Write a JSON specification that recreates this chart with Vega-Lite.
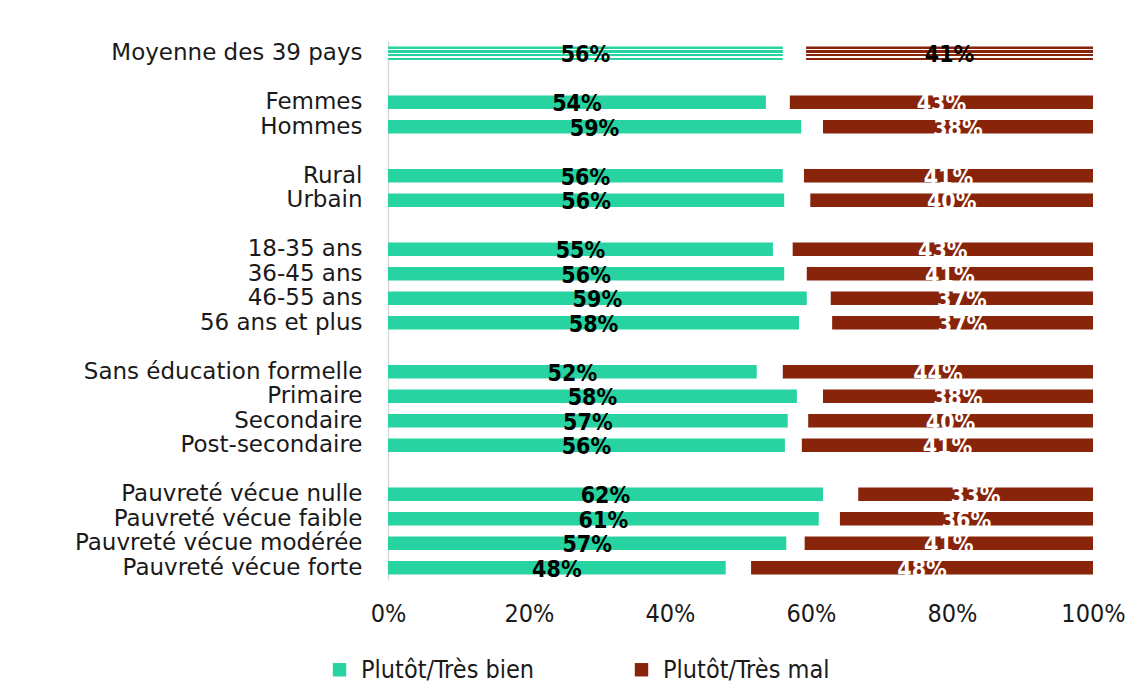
{
  "$schema": "https://vega.github.io/schema/vega-lite/v6.json",
  "width": 705,
  "height": 539,
  "autosize": {"type": "none"},
  "padding": {"left": 388, "top": 41, "right": 51, "bottom": 119},
  "background": "white",
  "config": {"view": {"stroke": null}, "font": "DejaVu Sans"},
  "data": {
    "values": [
      {"cat": "Moyenne des 39 pays", "bien": 0.560, "mal": 0.407, "bienLabel": "56%", "malLabel": "41%"},
      {"cat": "Femmes", "bien": 0.536, "mal": 0.430, "bienLabel": "54%", "malLabel": "43%"},
      {"cat": "Hommes", "bien": 0.586, "mal": 0.383, "bienLabel": "59%", "malLabel": "38%"},
      {"cat": "Rural", "bien": 0.560, "mal": 0.410, "bienLabel": "56%", "malLabel": "41%"},
      {"cat": "Urbain", "bien": 0.562, "mal": 0.401, "bienLabel": "56%", "malLabel": "40%"},
      {"cat": "18-35 ans", "bien": 0.546, "mal": 0.426, "bienLabel": "55%", "malLabel": "43%"},
      {"cat": "36-45 ans", "bien": 0.562, "mal": 0.406, "bienLabel": "56%", "malLabel": "41%"},
      {"cat": "46-55 ans", "bien": 0.594, "mal": 0.372, "bienLabel": "59%", "malLabel": "37%"},
      {"cat": "56 ans et plus", "bien": 0.583, "mal": 0.370, "bienLabel": "58%", "malLabel": "37%"},
      {"cat": "Sans éducation formelle", "bien": 0.523, "mal": 0.440, "bienLabel": "52%", "malLabel": "44%"},
      {"cat": "Primaire", "bien": 0.580, "mal": 0.383, "bienLabel": "58%", "malLabel": "38%"},
      {"cat": "Secondaire", "bien": 0.567, "mal": 0.404, "bienLabel": "57%", "malLabel": "40%"},
      {"cat": "Post-secondaire", "bien": 0.563, "mal": 0.413, "bienLabel": "56%", "malLabel": "41%"},
      {"cat": "Pauvreté vécue nulle", "bien": 0.617, "mal": 0.333, "bienLabel": "62%", "malLabel": "33%"},
      {"cat": "Pauvreté vécue faible", "bien": 0.611, "mal": 0.359, "bienLabel": "61%", "malLabel": "36%"},
      {"cat": "Pauvreté vécue modérée", "bien": 0.565, "mal": 0.409, "bienLabel": "57%", "malLabel": "41%"},
      {"cat": "Pauvreté vécue forte", "bien": 0.479, "mal": 0.485, "bienLabel": "48%", "malLabel": "48%"}
    ]
  },
  "encoding": {
    "y": {
      "field": "cat",
      "type": "nominal",
      "scale": {
        "domain": ["Moyenne des 39 pays", "gap1", "Femmes", "Hommes", "gap2", "Rural", "Urbain", "gap3", "18-35 ans", "36-45 ans", "46-55 ans", "56 ans et plus", "gap4", "Sans éducation formelle", "Primaire", "Secondaire", "Post-secondaire", "gap5", "Pauvreté vécue nulle", "Pauvreté vécue faible", "Pauvreté vécue modérée", "Pauvreté vécue forte"],
        "paddingInner": 0.44,
        "paddingOuter": 0.22
      },
      "axis": {
        "title": null,
        "ticks": false,
        "domainColor": "#d9d9d9",
        "domainWidth": 1.5,
        "labelFont": "DejaVu Sans",
        "labelFontSize": 23,
        "labelColor": "#1a1a1a",
        "labelPadding": 26,
        "labelLimit": 400,
        "labelExpr": "indexof(datum.label, 'gap') === 0 ? '' : datum.label"
      }
    }
  },
  "layer": [
    {
      "transform": [{"filter": "datum.cat !== 'Moyenne des 39 pays'"}],
      "mark": {"type": "bar"},
      "encoding": {
        "x": {
          "field": "bien",
          "type": "quantitative",
          "scale": {"domain": [0, 1]},
          "axis": {
            "title": null,
            "format": ".0%",
            "values": [0, 0.2, 0.4, 0.6, 0.8, 1],
            "domain": false,
            "ticks": false,
            "grid": false,
            "labelFont": "DejaVu Sans Condensed",
            "labelFontSize": 25,
            "labelColor": "#1a1a1a",
            "labelPadding": 21,
            "labelFlush": false
          }
        },
        "color": {
          "datum": "Plutôt/Très bien",
          "type": "nominal",
          "scale": {"domain": ["Plutôt/Très bien", "Plutôt/Très mal"], "range": ["#26D3A1", "#88240A"]},
          "legend": {
            "orient": "none",
            "legendX": -61,
            "legendY": 616,
            "direction": "horizontal",
            "title": null,
            "symbolType": "square",
            "symbolSize": 180,
            "symbolStrokeWidth": 0,
            "labelFont": "DejaVu Sans Condensed",
            "labelFontSize": 25,
            "labelColor": "#1a1a1a",
            "labelOffset": 9,
            "columnPadding": 94,
            "labelLimit": 400
          }
        }
      }
    },
    {
      "transform": [{"filter": "datum.cat === 'Moyenne des 39 pays'"}],
      "mark": {
        "type": "bar",
        "color": {
          "gradient": "linear", "x1": 0, "y1": 0, "x2": 0, "y2": 1,
          "stops": [
            {"offset": 0, "color": "#26D3A1"}, {"offset": 0.17, "color": "#26D3A1"},
            {"offset": 0.17, "color": "#ffffff"}, {"offset": 0.27, "color": "#ffffff"},
            {"offset": 0.27, "color": "#26D3A1"}, {"offset": 0.45, "color": "#26D3A1"},
            {"offset": 0.45, "color": "#ffffff"}, {"offset": 0.55, "color": "#ffffff"},
            {"offset": 0.55, "color": "#26D3A1"}, {"offset": 0.73, "color": "#26D3A1"},
            {"offset": 0.73, "color": "#ffffff"}, {"offset": 0.83, "color": "#ffffff"},
            {"offset": 0.83, "color": "#26D3A1"}, {"offset": 1, "color": "#26D3A1"}
          ]
        }
      },
      "encoding": {
        "x": {"field": "bien", "type": "quantitative", "scale": {"domain": [0, 1]}, "axis": null}
      }
    },
    {
      "transform": [{"filter": "datum.cat !== 'Moyenne des 39 pays'"}],
      "mark": {"type": "bar"},
      "encoding": {
        "x": {"field": "mal", "type": "quantitative", "scale": {"domain": [0, 1], "reverse": true}, "axis": null},
        "color": {"datum": "Plutôt/Très mal", "type": "nominal"}
      }
    },
    {
      "transform": [{"filter": "datum.cat === 'Moyenne des 39 pays'"}],
      "mark": {
        "type": "bar",
        "color": {
          "gradient": "linear", "x1": 0, "y1": 0, "x2": 0, "y2": 1,
          "stops": [
            {"offset": 0, "color": "#88240A"}, {"offset": 0.17, "color": "#88240A"},
            {"offset": 0.17, "color": "#ffffff"}, {"offset": 0.27, "color": "#ffffff"},
            {"offset": 0.27, "color": "#88240A"}, {"offset": 0.45, "color": "#88240A"},
            {"offset": 0.45, "color": "#ffffff"}, {"offset": 0.55, "color": "#ffffff"},
            {"offset": 0.55, "color": "#88240A"}, {"offset": 0.73, "color": "#88240A"},
            {"offset": 0.73, "color": "#ffffff"}, {"offset": 0.83, "color": "#ffffff"},
            {"offset": 0.83, "color": "#88240A"}, {"offset": 1, "color": "#88240A"}
          ]
        }
      },
      "encoding": {
        "x": {"field": "mal", "type": "quantitative", "scale": {"domain": [0, 1], "reverse": true}, "axis": null}
      }
    },
    {
      "mark": {"type": "text", "font": "DejaVu Sans Condensed", "fontWeight": "bold", "fontSize": 23, "baseline": "middle", "dy": 2, "color": "#000000"},
      "encoding": {
        "x": {"field": "bien", "type": "quantitative", "scale": {"domain": [0, 2]}, "axis": null},
        "text": {"field": "bienLabel"}
      }
    },
    {
      "mark": {"type": "text", "font": "DejaVu Sans Condensed", "fontWeight": "bold", "fontSize": 23, "baseline": "middle", "dy": 2},
      "encoding": {
        "x": {"field": "mal", "type": "quantitative", "scale": {"domain": [0, 2], "reverse": true}, "axis": null},
        "text": {"field": "malLabel"},
        "color": {
          "condition": {"test": "datum.cat === 'Moyenne des 39 pays'", "value": "#000000"},
          "value": "#ffffff"
        }
      }
    }
  ],
  "resolve": {"scale": {"x": "independent"}, "axis": {"x": "independent"}}
}
